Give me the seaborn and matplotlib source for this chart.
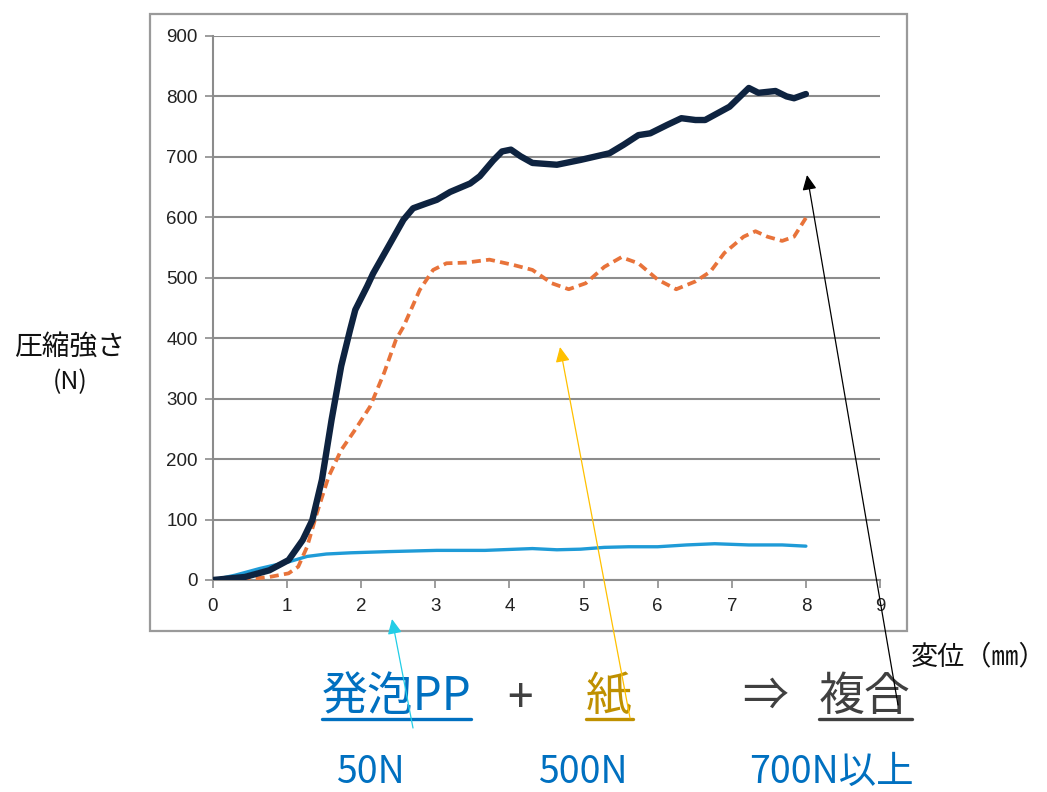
import matplotlib
matplotlib.use("Agg")
import matplotlib.pyplot as plt
import numpy as np
import pandas as pd
import seaborn as sns
from matplotlib.lines import Line2D
from matplotlib.patches import Rectangle, FancyArrowPatch

# Compression tests: displacement (mm) vs compressive strength (N)
composite_x = [0.0, 0.43, 0.76, 1.02, 1.21, 1.34, 1.47, 1.60, 1.73, 1.85, 1.92,
               2.08, 2.16, 2.34, 2.57, 2.70, 2.88, 3.02, 3.20, 3.47, 3.60, 3.78,
               3.90, 4.02, 4.15, 4.31, 4.64, 4.96, 5.35, 5.54, 5.74, 5.90, 6.13,
               6.32, 6.51, 6.64, 6.97, 7.23, 7.36, 7.59, 7.74, 7.84, 8.00]
composite_y = [0, 5, 16, 33, 66, 99, 166, 265, 354, 414, 447,
               486, 507, 546, 596, 615, 623, 629, 642, 656, 668, 694,
               709, 712, 701, 690, 687, 695, 706, 720, 736, 739, 753,
               764, 761, 761, 783, 814, 806, 809, 800, 797, 804]

paper_x = [0.0, 0.43, 0.76, 1.02, 1.15, 1.27, 1.40, 1.56, 1.73, 1.92, 2.12,
           2.31, 2.47, 2.57, 2.79, 2.97, 3.15, 3.41, 3.73, 4.06, 4.31, 4.57,
           4.80, 5.03, 5.28, 5.51, 5.74, 6.00, 6.25, 6.51, 6.71, 6.90, 7.16,
           7.32, 7.48, 7.68, 7.84, 8.00]
paper_y = [0, 1, 5, 11, 22, 55, 110, 171, 215, 249, 287,
           343, 398, 419, 480, 513, 524, 525, 530, 521, 513, 491,
           481, 491, 518, 534, 524, 497, 481, 494, 510, 541, 568,
           577, 568, 561, 568, 599]

foam_x = [0.0, 0.30, 0.63, 1.02, 1.27, 1.53, 1.86, 2.37, 3.02, 3.67, 4.31,
          4.64, 4.96, 5.28, 5.61, 6.00, 6.39, 6.77, 7.23, 7.68, 8.00]
foam_y = [0, 8, 19, 30, 39, 43, 45, 47, 49, 49, 52,
          50, 51, 54, 55, 55, 58, 60, 58, 58, 56]

x_ticks = list(range(0, 10))
y_ticks = list(range(0, 1000, 100))

W, H = 1047, 792

sns.set_theme(style="white")
plt.rcParams["font.family"] = ["Liberation Sans", "Noto Sans CJK JP", "DejaVu Sans"]
CJK = ["Noto Sans CJK JP", "DejaVu Sans"]

fig = plt.figure(figsize=(W / 100, H / 100), dpi=100)
ax = fig.add_axes([213 / W, 1 - 580 / H, (880 - 213) / W, (580 - 36) / H])

df_comp = pd.DataFrame({"x": composite_x, "y": composite_y})
df_paper = pd.DataFrame({"x": paper_x, "y": paper_y})
df_foam = pd.DataFrame({"x": foam_x, "y": foam_y})

sns.lineplot(data=df_foam, x="x", y="y", ax=ax, color="#1f9bd7", linewidth=2.4,
             sort=False, zorder=3, solid_joinstyle="round")
sns.lineplot(data=df_paper, x="x", y="y", ax=ax, color="#e8733a", linewidth=2.7,
             sort=False, zorder=4, linestyle=(0, (2.4, 1.4)),
             dash_joinstyle="round")
sns.lineplot(data=df_comp, x="x", y="y", ax=ax, color="#0e2340", linewidth=4.6,
             sort=False, zorder=5, solid_capstyle="round",
             solid_joinstyle="round")

ax.set_xlim(0, 9)
ax.set_ylim(0, 900)
ax.set_xticks(x_ticks)
ax.set_yticks(y_ticks)
ax.set_xticklabels([str(v) for v in x_ticks])
ax.set_yticklabels([str(v) for v in y_ticks])
ax.set_xlabel("")
ax.set_ylabel("")
ax.yaxis.grid(True, color="#8c8c8c", linewidth=1.5)
ax.xaxis.grid(False)
for side in ["top", "right"]:
    ax.spines[side].set_visible(False)
for side in ["left", "bottom"]:
    ax.spines[side].set_color("#8c8c8c")
    ax.spines[side].set_linewidth(1.5)
ax.tick_params(axis="both", which="major", length=6, width=1.2, color="#8c8c8c",
               labelsize=13.5, labelcolor="#222222", direction="out",
               left=True, bottom=True)
ax.tick_params(axis="y", pad=5)
ax.tick_params(axis="x", pad=7)
ax.set_facecolor("white")


def fp(x, y):
    return (x / W, 1 - y / H)


# chart frame
fig.add_artist(Rectangle(fp(150, 631), (907 - 150) / W, (631 - 14) / H,
                         transform=fig.transFigure, fill=False,
                         edgecolor="#9a9a9a", linewidth=1.6, zorder=0))

# axis titles
fig.text(*fp(70, 347), "圧縮強さ", family=CJK, fontsize=20, ha="center",
         va="center", color="#111111")
fig.text(*fp(70, 382), "(N)", family=CJK, fontsize=18, ha="center",
         va="center", color="#111111")
fig.text(*fp(1046, 657), "変位（㎜）", family=CJK, fontsize=19.5, ha="right",
         va="center", color="#111111")

# material summary
blue = "#0070c0"
gold = "#bf9000"
gray = "#404040"
fig.text(*fp(322, 697), "発泡PP", family=CJK, fontsize=33, ha="left", va="center",
         color=blue)
fig.text(*fp(520, 699), "+", family=CJK, fontsize=33, ha="center", va="center",
         color=gray)
fig.text(*fp(609, 697), "紙", family=CJK, fontsize=33, ha="center", va="center",
         color=gold)
fig.text(*fp(765, 697), "⇒", family=CJK, fontsize=33, ha="center", va="center",
         color=gray)
fig.text(*fp(819, 697), "複合", family=CJK, fontsize=33, ha="left", va="center",
         color=gray)

for x0, x1, c in [(322, 471, blue), (586, 633, gold), (819, 912, gray)]:
    fig.add_artist(Line2D([x0 / W, x1 / W], [1 - 719 / H, 1 - 719 / H],
                          transform=fig.transFigure, color=c, linewidth=2.4))

fig.text(*fp(370, 783), "50N", family=CJK, fontsize=27, ha="center",
         va="baseline", color=blue)
fig.text(*fp(583, 783), "500N", family=CJK, fontsize=27, ha="center",
         va="baseline", color=blue)
fig.text(*fp(831, 783), "700N以上", family=CJK, fontsize=27, ha="center",
         va="baseline", color=blue)

# pointer arrows from labels to curves
for (tx, ty), (hx, hy), c in [((413, 728), (392, 619), "#22cde6"),
                              ((630, 718), (560, 347), "#ffc000"),
                              ((898, 705), (807, 175), "#000000")]:
    fig.add_artist(FancyArrowPatch(fp(tx, ty), fp(hx, hy),
                                   transform=fig.transFigure,
                                   arrowstyle="-|>,head_length=9,head_width=4.3",
                                   color=c, linewidth=0.9, zorder=10,
                                   shrinkA=0, shrinkB=0))

fig.savefig("out.png", dpi=100, facecolor="white")
